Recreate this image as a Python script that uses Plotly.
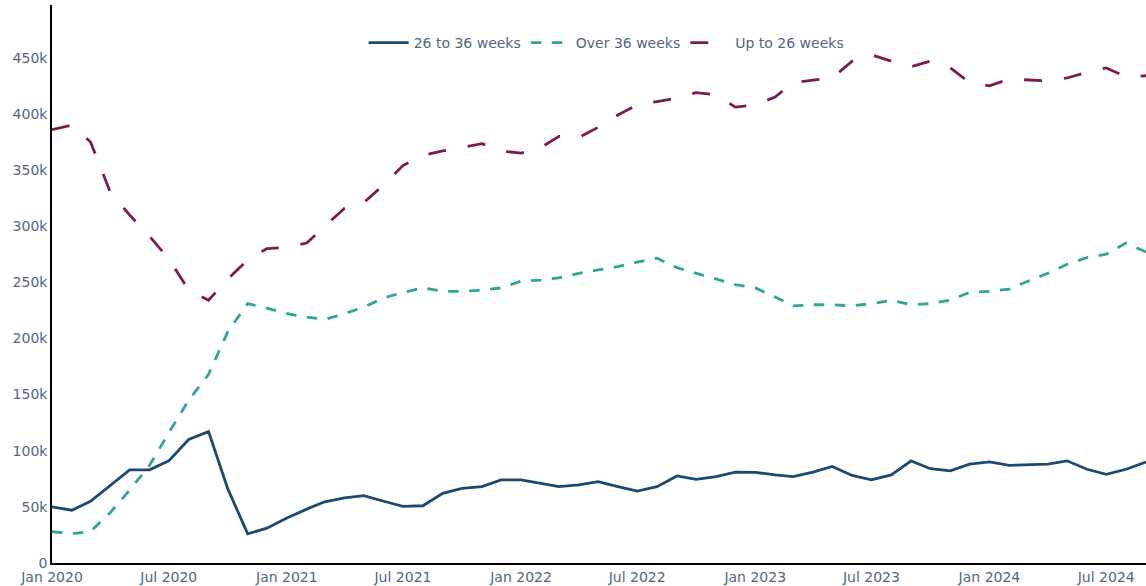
import plotly.graph_objects as go
import pandas as pd

months = pd.date_range("2020-01-01", "2024-09-01", freq="MS")

weeks_26_36 = [50, 47, 55, 69.5, 83, 83, 91, 110, 117, 66, 26, 31,
               40, 48, 54.5, 58, 60, 55, 50.5, 51, 62, 66.5, 68, 74,
               74, 71, 68, 69.5, 72.5, 68, 64, 68, 77.5, 74.5, 77, 81,
               80.8, 78.4, 77, 81, 86, 78, 74, 78.4, 91, 84, 82, 88,
               90, 87, 87.5, 88, 91, 83.5, 79, 83.5, 90]

over_36 = [28, 26, 28, 45, 65, 87, 116, 145, 168, 206, 231, 227,
           222, 219, 217, 222, 228, 236, 241, 245, 242, 242, 243, 245,
           251, 252, 254, 258, 261, 264, 268, 271.5, 263, 258, 253, 248,
           245, 237, 229, 230, 230, 229, 231, 234, 230, 231, 234, 241,
           242, 244, 251, 258, 266, 272, 275, 285, 277]

up_to_26 = [386, 390, 375, 330, 310, 291, 271, 243, 234, 253, 270, 280,
            281, 285, 300, 316, 321, 337, 354, 363, 367, 370, 373.5, 367,
            365, 370, 380, 379, 388, 399, 408, 411, 414, 419, 417, 406,
            408, 415, 428, 430, 432, 447, 452.7, 447, 442, 447, 441, 428,
            425, 431, 430.5, 429.5, 432, 437, 441, 433, 434]

names = ["26 to 36 weeks", "Over 36 weeks", "Up to 26 weeks"]
colors = ["#1b4a70", "#2ea596", "#7a1c4f"]
dashes = ["solid", "10.5px,10.5px", "18px,22px"]

fig = go.Figure()
for vals, name, col, dsh in zip([weeks_26_36, over_36, up_to_26], names, colors, dashes):
    fig.add_trace(go.Scatter(
        x=months, y=[v * 1000 for v in vals], mode="lines", name=name,
        line=dict(color=col, width=2.8, dash=dsh)))

fig.update_layout(
    width=1146, height=586,
    template="plotly_white",
    margin=dict(l=52, r=0, t=5, b=23),
    font=dict(family="DejaVu Sans, Verdana, sans-serif", size=14, color="#506784"),
    legend=dict(orientation="h", x=0.507, xanchor="center", y=0.932, yanchor="middle",
                itemwidth=40, bgcolor="rgba(0,0,0,0)", font=dict(size=14)),
    plot_bgcolor="white", paper_bgcolor="white",
)
fig.update_xaxes(range=["2020-01-01", "2024-09-01"], dtick="M6", tickformat="%b %Y",
                 showgrid=False, showline=True, linecolor="black", linewidth=1.5,
                 zeroline=False, ticks="", automargin=False)
fig.update_yaxes(range=[0, 497000], dtick=50000, tickformat="~s",
                 showgrid=False, showline=True, linecolor="black", linewidth=1.5,
                 zeroline=False, ticks="", automargin=False)

fig.write_html("out.html", config={"displayModeBar": False},
               post_script="document.body.style.margin='0';")
